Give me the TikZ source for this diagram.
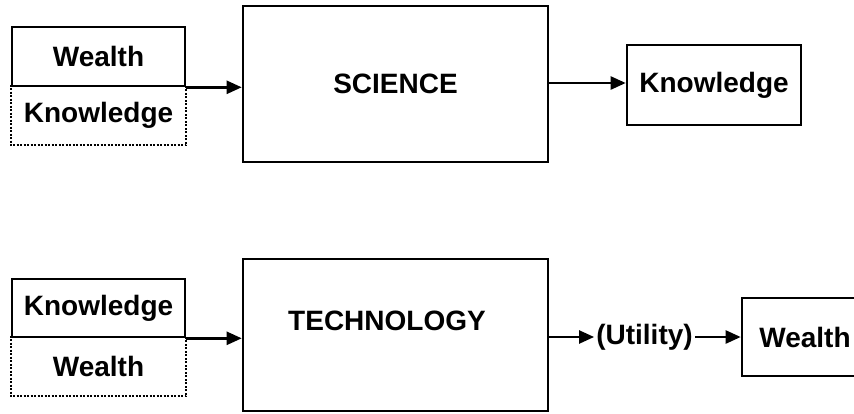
\documentclass[tikz,border=0pt]{standalone}
\usepackage{fontspec}
\setmainfont{Liberation Sans}
\usetikzlibrary{arrows.meta, positioning, calc}
\tikzset{
  block/.style={rectangle, draw=black, line width=2.6pt, fill=white,
                inner sep=2pt, font=\fontsize{28}{32}\selectfont\bfseries},
  ghost/.style={block, draw=none},
  dotline/.style={line width=2pt, dash pattern=on 2pt off 1.5pt},
  arrow/.style={-{Triangle[length=15pt, width=13pt]}, line width=2.4pt},
  label/.style={inner sep=2pt, font=\fontsize{28}{32}\selectfont\bfseries},
}
\begin{document}
\begin{tikzpicture}[x=1pt, y=-1pt]
  \clip (0,0) rectangle (854,413);
  \useasboundingbox (0,0) rectangle (854,413);

  % science row
  \node[ghost, minimum width=173pt, minimum height=58pt] (knowin) at (98.5,115) {Knowledge};
  \draw[dotline] (knowin.north west) -- (knowin.south west) -- (knowin.south east) -- (knowin.north east);
  \node[block, minimum width=173pt, minimum height=59pt] (wealthin) at (98.5,56.5) {Wealth};
  \node[block, minimum width=305pt, minimum height=156pt] (science) at (395.5,84) {SCIENCE};
  \node[block, minimum width=174pt, minimum height=80pt] (knowout) at (714,85) {Knowledge};
  \draw[arrow] (wealthin.south east) -- (wealthin.south east -| science.west);
  \draw[arrow] (science.east |- 0,83) -- (knowout.west |- 0,83);

  % technology row
  \node[ghost, minimum width=173pt, minimum height=58pt] (wealthin2) at (98.5,366) {Wealth};
  \draw[dotline] (wealthin2.north west) -- (wealthin2.south west) -- (wealthin2.south east) -- (wealthin2.north east);
  \node[block, minimum width=173pt, minimum height=58pt] (knowin2) at (98.5,308) {Knowledge};
  \node[block, minimum width=305pt, minimum height=152pt] (tech) at (395.5,335) {};
  \node[label] (techtext) at (387,321) {TECHNOLOGY};
  \node[label] (utility) at (644.5,337) {(Utility)};
  \node[block, minimum width=126pt, minimum height=78pt] (wealthout) at (805,337) {Wealth};
  \draw[arrow] (knowin2.south east) -- (knowin2.south east -| tech.west);
  \draw[arrow] (tech.east |- utility) -- (utility.west);
  \draw[arrow] (utility.east) -- (wealthout.west);
\end{tikzpicture}
\end{document}
